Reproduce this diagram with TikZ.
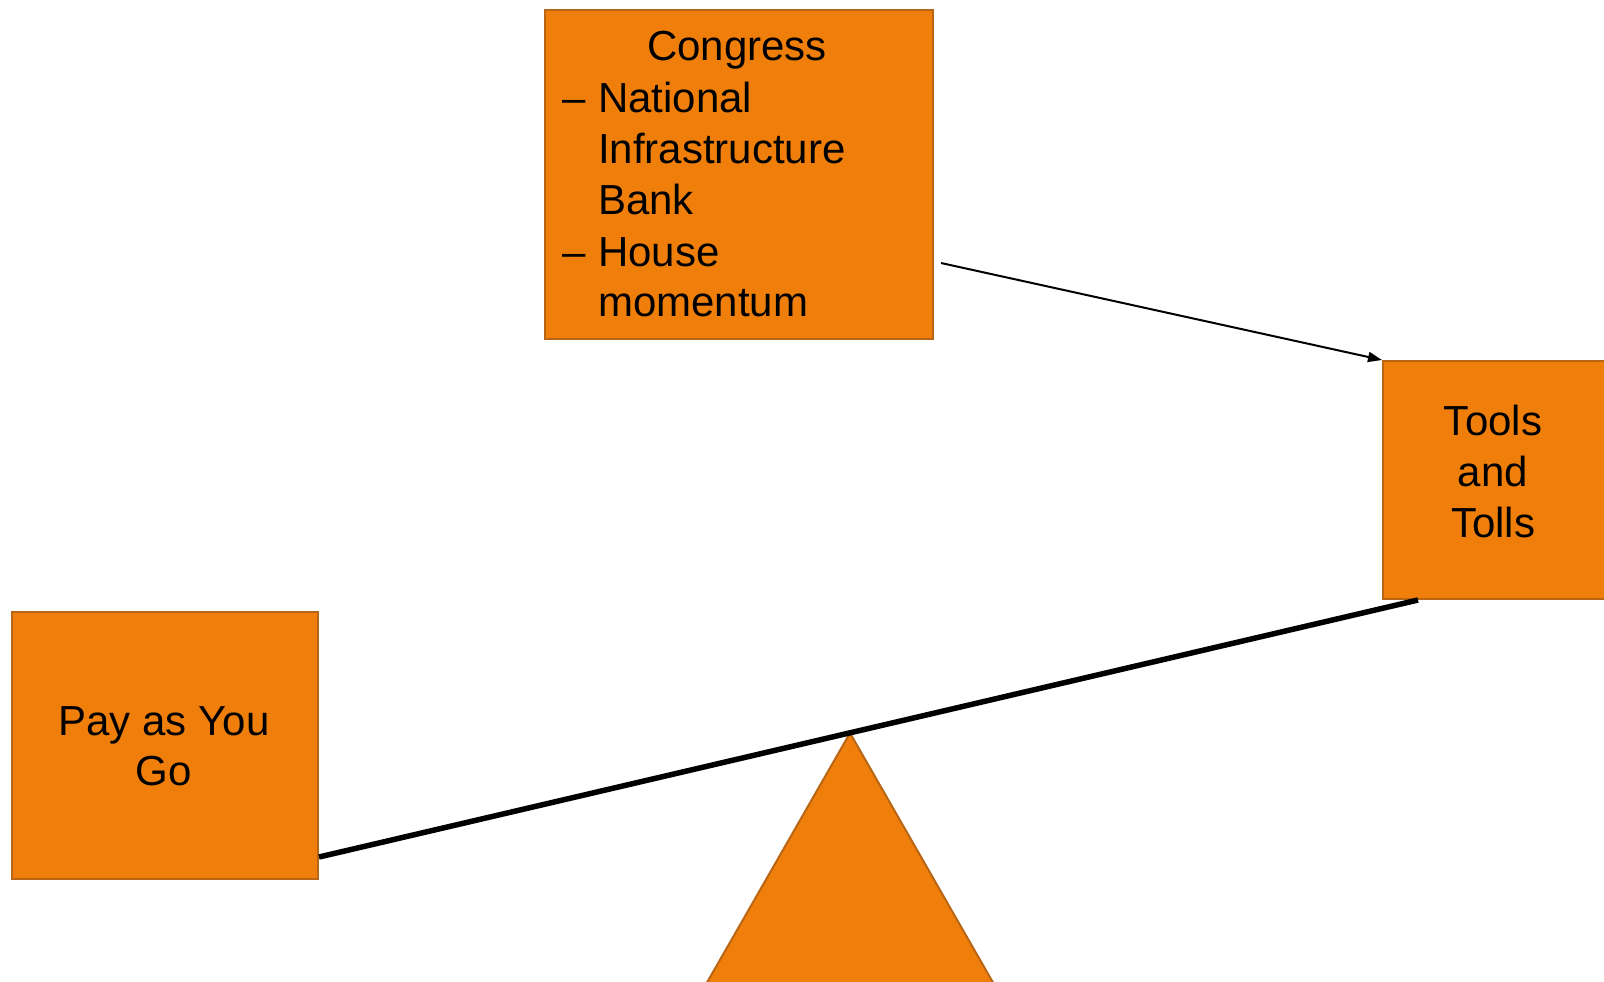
\documentclass[tikz,border=0pt]{standalone}
\usepackage{fontspec}
\setmainfont{Liberation Sans}
\usetikzlibrary{arrows.meta,calc}
\definecolor{boxfill}{RGB}{239,127,10}
\definecolor{boxline}{RGB}{184,102,22}
\tikzset{
  box/.style={draw=boxline, fill=boxfill, line width=2pt, rectangle, inner sep=0pt},
  txt/.style={inner sep=0pt, font=\fontsize{42}{51}\selectfont, text=black},
  beam/.style={line width=5.5pt, black},
  conn/.style={line width=2pt, black, -{Triangle[length=14pt,width=10pt]}}
}
\begin{document}
\begin{tikzpicture}[x=1pt,y=-1pt]
\useasboundingbox (0,0) rectangle (1604,982);
% fulcrum
\draw[box] (850,733) -- (705,986) -- (995,986) -- cycle;
\node[box, minimum width=388pt, minimum height=329pt, anchor=north west] (congress) at (544,9) {};
\node[box, minimum width=240pt, minimum height=238pt, anchor=north west] (tools) at (1382,360) {};
\node[box, minimum width=306pt, minimum height=267pt, anchor=north west] (pay) at (11,611) {};
% congress text
\node[txt, anchor=base] (ct) at (737,61) {Congress};
\node[txt, anchor=base west] (d1) at (562,113) {–};
\node[txt, anchor=base west] (c1) at (598,113) {National};
\node[txt, anchor=base west] (c2) at (598,163) {Infrastructure};
\node[txt, anchor=base west] (c3) at (598,214) {Bank};
\node[txt, anchor=base west] (d2) at (562,266) {–};
\node[txt, anchor=base west] (c4) at (598,266) {House};
\node[txt, anchor=base west] (c5) at (598,316) {momentum};
% tools text
\node[txt, anchor=base] (t1) at (1493,435) {Tools};
\node[txt, anchor=base] (t2) at (1493,486) {and};
\node[txt, anchor=base] (t3) at (1493,537) {Tolls};
% pay text
\node[txt, anchor=base] (p1) at (164,735) {Pay as You};
\node[txt, anchor=base] (p2) at (164,785) {Go};
% connectors
\coordinate (beamL) at ($(pay.north east)+(0,246)$);
\coordinate (beamR) at ($(tools.south west)+(36,0)$);
\draw[beam] (beamL) -- (beamR);
\coordinate (arrS) at ($(congress.north east)+(7,254)$);
\draw[conn] (arrS) -- (tools.north west);
\end{tikzpicture}
\end{document}
